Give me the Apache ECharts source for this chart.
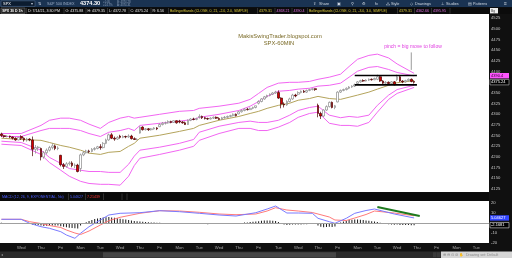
<!DOCTYPE html>
<html><head><meta charset="utf-8">
<script src="https://cdn.jsdelivr.net/npm/echarts@6/dist/echarts.min.js"></script>
<style>html,body{margin:0;padding:0;background:#101010;}#c{width:512px;height:258px;}</style>
</head><body><div id="c"></div>
<script>
// ---- categories (hourly bars) ----
const dayDates = ['6/15','6/16','6/17','6/18','6/21','6/22','6/23','6/24','6/25','6/28','6/29','6/30','7/1','7/2','7/6','7/7','7/8','7/9','7/12','7/13','7/14','7/15','7/16','7/19','7/20'];
const dayNames = ['Tue','Wed','Thu','Fri','Mon','Tue','Wed','Thu','Fri','Mon','Tue','Wed','Thu','Fri','Tue','Wed','Thu','Fri','Mon','Tue','Wed','Thu','Fri','Mon','Tue'];
const hours = ['9:30','10:30','11:30','12:30','13:30','14:30','15:30'];
const lastDayBars = 5;

// ---- SPX 60 min candles [open, close, low, high] ----
const ohlc = [
[4254,4250,4247,4257],[4250,4248,4245,4252],[4248,4249,4246,4251],[4249,4247,4244,4250],[4247,4244,4241,4248],[4244,4240,4238,4246],[4240,4246,4239,4247],
[4248,4244,4240,4251],[4244,4240,4236,4246],[4240,4242,4236,4245],[4242,4240,4237,4244],[4240,4218,4202,4248],[4218,4222,4208,4228],[4222,4223,4214,4226],
[4220,4200,4192,4222],[4200,4210,4196,4214],[4210,4216,4206,4220],[4216,4222,4213,4226],[4222,4226,4218,4232],[4226,4220,4216,4229],[4220,4221,4216,4225],
[4204,4182,4178,4205],[4182,4178,4172,4186],[4178,4184,4175,4188],[4184,4186,4180,4190],[4186,4180,4176,4190],[4180,4181,4174,4185],[4181,4166,4164,4184],
[4173,4205,4165,4208],[4205,4210,4202,4214],[4210,4214,4208,4217],[4214,4213,4209,4217],[4213,4218,4211,4221],[4218,4220,4215,4223],[4220,4224,4218,4226],
[4224,4222,4217,4230],[4222,4232,4220,4235],[4232,4240,4230,4243],[4240,4252,4238,4255],[4252,4244,4242,4256],[4244,4242,4238,4248],[4242,4246,4240,4249],
[4249,4246,4243,4252],[4246,4248,4244,4251],[4248,4247,4244,4250],[4247,4249,4245,4253],[4249,4243,4241,4252],[4243,4241,4240,4246],[4241,4241,4239,4244],
[4256,4270,4255,4272],[4270,4264,4262,4272],[4264,4266,4262,4268],[4266,4264,4261,4268],[4264,4266,4262,4268],[4266,4268,4264,4270],[4268,4266,4263,4270],
[4271,4276,4270,4279],[4276,4279,4274,4282],[4279,4280,4276,4283],[4280,4283,4278,4286],[4283,4281,4279,4285],[4281,4285,4280,4286],[4285,4280,4278,4286],
[4284,4282,4279,4287],[4282,4280,4278,4284],[4280,4276,4275,4283],[4276,4286,4275,4288],[4286,4289,4284,4291],[4289,4288,4286,4292],[4288,4290,4286,4292],
[4293,4295,4290,4300],[4295,4292,4289,4297],[4292,4290,4288,4294],[4290,4289,4287,4292],[4289,4291,4288,4293],[4291,4293,4289,4295],[4293,4291,4289,4295],
[4290,4288,4287,4293],[4288,4292,4287,4294],[4292,4293,4290,4296],[4293,4295,4291,4297],[4295,4297,4293,4299],[4297,4300,4295,4302],[4300,4297,4295,4302],
[4301,4306,4300,4308],[4306,4309,4304,4311],[4309,4312,4307,4314],[4312,4311,4309,4315],[4311,4314,4310,4316],[4314,4316,4312,4318],[4316,4320,4314,4320],
[4326,4330,4323,4333],[4330,4336,4328,4338],[4336,4341,4334,4343],[4341,4344,4339,4346],[4344,4347,4342,4349],[4347,4350,4345,4352],[4350,4352,4348,4355],
[4351,4338,4336,4356],[4338,4324,4314,4340],[4324,4322,4316,4328],[4322,4330,4320,4333],[4330,4336,4328,4339],[4336,4345,4334,4348],[4345,4343,4340,4348],
[4347,4351,4344,4354],[4351,4354,4349,4356],[4354,4352,4350,4357],[4352,4356,4350,4358],[4356,4358,4354,4360],[4358,4360,4356,4361],[4360,4358,4355,4361],
[4321,4302,4293,4325],[4302,4296,4289,4306],[4296,4310,4294,4312],[4310,4318,4308,4321],[4318,4328,4316,4330],[4328,4316,4314,4330],[4316,4320,4312,4322],
[4329,4352,4328,4354],[4352,4356,4350,4358],[4356,4358,4354,4360],[4358,4361,4356,4363],[4361,4364,4359,4366],[4364,4366,4362,4368],[4366,4369,4364,4372],
[4372,4376,4370,4378],[4376,4379,4374,4381],[4379,4378,4376,4382],[4378,4380,4377,4382],[4380,4382,4378,4384],[4382,4381,4379,4384],[4381,4384,4380,4386],
[4382,4388,4380,4393],[4388,4378,4376,4390],[4378,4373,4370,4380],[4373,4375,4371,4378],[4375,4372,4370,4377],[4372,4376,4371,4378],[4376,4369,4368,4378],
[4381,4388,4378,4393],[4388,4378,4376,4390],[4378,4376,4373,4380],[4376,4379,4374,4381],[4379,4382,4377,4384],[4382,4377,4375,4384],[4377,4375.24,4372,4379]
];

// ---- Bollinger bands (read at these bar indices) ----
const bandIdx = [0,7,14,17,21,24,28,31,35,38,42,45,47,49,56,63,68,70,77,84,88,91,94,98,102,105,109,112,116,120,123,126,130,133,137,140,146];
const bbUpper3 = [4255,4255,4274,4286,4291,4291,4286,4277,4267,4281,4291,4295,4291,4293,4300,4307,4309,4314,4319,4326,4335,4349,4363,4373,4375,4375,4377,4382,4387,4394,4412,4429,4438,4441,4432,4418,4396];
const bbUpper2 = [4248,4248,4262,4267,4267,4267,4262,4255,4248,4258,4262,4267,4262,4274,4279,4284,4288,4293,4300,4309,4319,4330,4342,4354,4356,4359,4361,4366,4368,4373,4387,4401,4410,4412,4405,4398,4390];
const bbMid    = [4244,4241,4239,4234,4227,4223,4216,4209,4206,4211,4213,4225,4232,4244,4251,4260,4267,4274,4286,4295,4302,4307,4314,4321,4326,4333,4337,4342,4337,4335,4340,4345,4352,4359,4368,4374,4379];
const bbLower2 = [4237,4234,4216,4199,4185,4173,4169,4166,4166,4164,4164,4183,4202,4216,4223,4232,4241,4258,4272,4281,4284,4281,4281,4286,4298,4309,4316,4319,4298,4292,4295,4293,4298,4321,4345,4358,4368];
const bbLower3 = [4230,4227,4206,4187,4169,4155,4143,4138,4136,4136,4134,4155,4180,4197,4206,4216,4225,4239,4255,4267,4267,4262,4262,4270,4281,4293,4302,4305,4279,4274,4274,4272,4281,4305,4335,4349,4363];

// ---- MACD (12, 26, 9) ----
const macdIdx = [0,7,10,14,17,21,23,26,28,31,35,38,42,49,56,63,70,77,83,90,94,97,101,105,110,112,116,118,122,125,129,132,139,146];
const macdLine = [3.7,3.7,-0.3,-3.7,-5.3,-8.7,-12,-15.3,-10.3,-3.7,3,8,9.7,10.3,12.3,11.3,9.7,8,7,10.3,14,17,10,10,9.7,4.7,1.3,-0.3,4.7,9.7,12.5,14,9,5.05];
const signalLine = [3.7,3.7,1.3,-0.5,-2.5,-4.5,-7,-10,-11.5,-8,-2,2.3,5.7,9.7,12.3,12,10.7,9,8.3,9,12,15.3,13,12,10.5,9,6,3,2.5,5,8.5,12,10,7.21];
const histogram = [
0.2,0.1,0.1,0.0,-0.1,0.1,0.0,
-0.1,-0.3,-0.6,-1.0,-1.6,-1.9,-2.0,
-2.6,-2.9,-2.8,-2.6,-2.5,-2.4,-2.5,
-3.2,-3.8,-4.3,-4.8,-5.1,-5.3,-5.6,
-2.6,-0.8,0.8,2.0,3.0,3.9,4.6,
5.0,5.4,5.8,5.9,5.6,5.2,4.8,
4.3,3.8,3.4,3.0,2.4,2.0,1.8,
1.6,1.2,1.0,0.8,0.6,0.5,0.3,
0.2,0.1,0.0,-0.1,-0.2,-0.2,-0.3,
-0.5,-0.7,-0.9,-0.8,-0.9,-1.0,-1.0,
-1.0,-1.1,-1.1,-1.2,-1.1,-1.0,-1.0,
-1.0,-1.0,-0.9,-0.9,-0.8,-0.7,-0.6,
-0.3,0.1,0.4,0.6,0.9,1.2,1.4,
1.8,2.2,2.4,2.5,2.4,2.2,2.0,
1.0,-0.8,-1.6,-1.9,-1.8,-1.6,-1.5,
-1.5,-1.4,-1.3,-1.2,-1.1,-1.0,-1.0,
-2.6,-3.8,-4.2,-4.0,-3.8,-3.9,-3.4,
-1.0,0.6,1.6,2.3,2.9,3.3,3.5,
3.4,3.2,2.9,2.5,2.2,1.8,1.4,
1.1,0.3,-0.5,-1.0,-1.3,-1.4,-1.8,
-1.6,-1.9,-2.0,-2.1,-2.1,-2.2,-2.17];

// ---- drawn annotations (data coordinates) ----
const rangeTop = [[125,4391],[147,4391]];
const rangeBottom = [[125,4369],[147,4369]];
const pinchPointer = [[145,4445],[145,4404]];
const macdTrend = [[133,16],[148,7]];

// ---- tick labels ----
const priceTicks = [4125,4150,4175,4200,4225,4250,4275,4300,4325,4350,4375,4400,4425,4450,4475,4500,4525];
const macdTicks = [20,10,-10,-20];
const lastPrice = 4375.24, upperBandNow = 4390.4, macdNow = 5.04627, signalNow = 7.21439, histNow = -2.1681;

const categories = [];
dayDates.forEach((d, k) => {
  const n = k === dayDates.length - 1 ? lastDayBars : hours.length;
  for (let h = 0; h < n; h++) categories.push(d + ' ' + hours[h]);
});
const pair = (idx, vals) => idx.map((k, j) => [k, vals[j]]);

const FONT = 'Liberation Sans, Arial, sans-serif';
const chart = echarts.init(document.getElementById('c'), null, {width: 512, height: 258});
const bandLine = (data, color) => ({type: 'line', xAxisIndex: 0, yAxisIndex: 0, data, symbol: 'none', silent: true,
  lineStyle: {color, width: 1}, z: 3});

chart.setOption({
  animation: false,
  backgroundColor: '#101010',
  textStyle: {fontFamily: FONT},
  grid: [
    {left: 0, right: 23, top: 14, height: 178, show: true, backgroundColor: '#ffffff', borderWidth: 0},
    {left: 0, right: 23, top: 201, height: 42, show: true, backgroundColor: '#ffffff', borderWidth: 0}
  ],
  xAxis: [
    {type: 'category', gridIndex: 0, data: categories, boundaryGap: true,
      axisLine: {show: false}, axisTick: {show: false}, axisLabel: {show: false}, splitLine: {show: false}},
    {type: 'category', gridIndex: 1, data: categories, boundaryGap: true,
      axisLine: {show: false}, axisTick: {show: false}, splitLine: {show: false},
      axisLabel: {interval: (i) => i > 0 && i % hours.length === 0, formatter: (v, i) => dayNames[Math.floor(i / hours.length)],
        color: '#a8a8a8', fontSize: 4.2, margin: 3, fontFamily: FONT}}
  ],
  yAxis: [
    {type: 'value', gridIndex: 0, position: 'right', min: 4118, max: 4535, scale: true,
      axisLine: {show: false}, axisTick: {show: false}, splitLine: {show: false},
      axisLabel: {customValues: priceTicks, formatter: v => String(v), color: '#c4c4c4', fontSize: 4.2, margin: 2, fontFamily: FONT}},
    {type: 'value', gridIndex: 1, position: 'right', min: -20, max: 22,
      axisLine: {show: false}, axisTick: {show: false}, splitLine: {show: false},
      axisLabel: {customValues: macdTicks, formatter: v => String(v), color: '#c4c4c4', fontSize: 4.2, margin: 2, fontFamily: FONT}}
  ],
  series: [
    bandLine(pair(bandIdx, bbUpper3), '#f266f2'),
    bandLine(pair(bandIdx, bbUpper2), '#f266f2'),
    bandLine(pair(bandIdx, bbMid), '#b4a45c'),
    bandLine(pair(bandIdx, bbLower2), '#f266f2'),
    bandLine(pair(bandIdx, bbLower3), '#f266f2'),
    {type: 'candlestick', xAxisIndex: 0, yAxisIndex: 0, data: ohlc, barWidth: 2.2, silent: true,
      itemStyle: {color: '#ffffff', color0: '#d40000', borderColor: '#8a8a8a', borderColor0: '#4a0000', borderWidth: 0.7}, z: 5},
    {type: 'line', xAxisIndex: 0, yAxisIndex: 0, data: rangeTop, symbol: 'none', lineStyle: {color: '#000', width: 1.6}, z: 6},
    {type: 'line', xAxisIndex: 0, yAxisIndex: 0, data: rangeBottom, symbol: 'none', lineStyle: {color: '#000', width: 1.6}, z: 6},
    {type: 'line', xAxisIndex: 0, yAxisIndex: 0, data: pinchPointer, symbol: 'none', lineStyle: {color: '#9a9a9a', width: 1}, z: 6},
    {type: 'bar', xAxisIndex: 1, yAxisIndex: 1, data: histogram, barWidth: 1, silent: true,
      itemStyle: {color: '#1a1a1a'},
      markLine: {silent: true, symbol: 'none', label: {show: false}, lineStyle: {color: '#a0a0a0', width: 1, type: 'solid'}, data: [{yAxis: 0}]}},
    {type: 'line', xAxisIndex: 1, yAxisIndex: 1, data: pair(macdIdx, signalLine), symbol: 'none', lineStyle: {color: '#ff7a7a', width: 1}, z: 4},
    {type: 'line', xAxisIndex: 1, yAxisIndex: 1, data: pair(macdIdx, macdLine), symbol: 'none', lineStyle: {color: '#7a7aff', width: 1}, z: 4},
    {type: 'line', xAxisIndex: 1, yAxisIndex: 1, data: macdTrend, symbol: 'none', lineStyle: {color: '#1f7a1f', width: 2}, z: 6}
  ]
});

// ---- chrome / texts ----
const els = [];
const rect = (x, y, w, h, fill, stroke) => els.push({type: 'rect', shape: {x, y, width: w, height: h}, style: {fill, stroke: stroke || null, lineWidth: stroke ? 0.6 : 0}, z: 100, silent: true});
const txt = (x, y, text, fill, size, align, weight) => els.push({type: 'text', x, y, style: {text, fill, fontSize: size, fontFamily: FONT, fontWeight: weight || 'normal', align: align || 'left', verticalAlign: 'middle'}, z: 101, silent: true});
const vline = (x, y1, y2, c) => els.push({type: 'line', shape: {x1: x, y1, x2: x, y2}, style: {stroke: c, lineWidth: 0.6}, z: 100, silent: true});

// top toolbar
rect(0, 0, 512, 7.2, '#1a3352');
rect(1, 0.8, 34, 5.6, '#0c1c30', '#50688a');
txt(3, 3.7, 'SPX', '#ffffff', 4);
txt(31, 3.6, '▾', '#c0c8d8', 3.5);
txt(38, 3.6, '⇅', '#c0c8d8', 4);
txt(47, 3.7, 'S&P 500 INDEX', '#9aabc4', 3.8);
txt(80, 3.8, '4374.30', '#ffffff', 5.6, 'left', 'bold');
txt(103, 2.2, '+0.05', '#8fa2bc', 2.8); txt(103, 5.2, '+0.17%', '#8fa2bc', 2.8);
txt(117, 2.2, 'B: 4374.28', '#8fa2bc', 2.8); txt(117, 5.2, 'A: 4374.31', '#8fa2bc', 2.8);
txt(313, 3.7, '⇪', '#d0d8e2', 4); txt(319, 3.7, 'Share', '#d0d8e2', 3.8);
txt(337, 3.7, '▣', '#d0d8e2', 4); txt(351, 3.7, '⚲', '#d0d8e2', 4); txt(362, 3.7, '⚙', '#d0d8e2', 4);
txt(375, 3.7, 'fx', '#d0d8e2', 3.8);
txt(386, 3.7, '⁂', '#d0d8e2', 3.6); txt(391, 3.7, 'Style', '#d0d8e2', 3.8);
txt(410, 3.7, '◇', '#d0d8e2', 3.6); txt(415, 3.7, 'Drawings', '#d0d8e2', 3.8);
txt(441, 3.7, '⊥', '#d0d8e2', 3.6); txt(446, 3.7, 'Studies', '#d0d8e2', 3.8);
txt(468, 3.7, '▤', '#d0d8e2', 3.6); txt(473, 3.7, 'Patterns', '#d0d8e2', 3.8);
txt(504, 3.7, '≡', '#d0d8e2', 5);

// info row
rect(0, 7.2, 512, 6.8, '#0b0b0b');
rect(1, 8, 24, 5.4, '#1e1e1e', '#707070');
txt(2.2, 10.8, 'SPX 30 D 1h', '#ffffff', 3.5, 'left', 'bold');
[26.5, 64, 86, 107.5, 129, 151, 168.5, 257.5, 275, 292, 307.5, 397.5, 414.5, 431.5, 450].forEach(x => vline(x, 8, 13.6, '#4a4a4a'));
txt(28, 10.8, 'D: 7/14/21, 3:30 PM', '#e6e6e6', 3.6);
txt(65.5, 10.8, 'O: 4375.88', '#e6e6e6', 3.6);
txt(87.5, 10.8, 'H: 4379.35', '#e6e6e6', 3.6);
txt(109, 10.8, 'L: 4372.78', '#e6e6e6', 3.6);
txt(130.5, 10.8, 'C: 4375.24', '#e6e6e6', 3.6);
txt(152.5, 10.8, 'R: 6.56', '#e6e6e6', 3.6);
txt(170, 10.8, 'BollingerBands (CLOSE, 0, 21, -2.0, 2.0, SIMPLE)', '#d8c63a', 3.5);
txt(259, 10.8, '4379.31', '#d8c63a', 3.6);
txt(276.5, 10.8, '4368.21', '#e070e0', 3.6);
txt(293.5, 10.8, '4390.4', '#e070e0', 3.6);
txt(309, 10.8, 'BollingerBands (CLOSE, 0, 21, -3.0, 3.0, SIMPLE)', '#d8c63a', 3.5);
txt(399, 10.8, '4379.31', '#d8c63a', 3.6);
txt(416, 10.8, '4362.66', '#e070e0', 3.6);
txt(433, 10.8, '4395.95', '#e070e0', 3.6);
rect(490, 8, 8, 5.4, '#ececec');
txt(491, 10.8, 'Bg', '#333', 3.2);

// chart texts
txt(280, 36, 'MakisSwingTrader.blogspot.com', '#7a6a26', 5.8, 'center');
txt(279, 43, 'SPX-60MIN', '#7a6a26', 5.8, 'center');
txt(413, 47, 'pinch = big move to follow', '#e040e0', 5, 'center');

// MACD header
rect(0, 192.5, 489, 8.3, '#0a0a0a');
[68.5, 85.5, 103.5, 122, 127].forEach(x => vline(x, 193.5, 200, '#4a4a4a'));
txt(2, 196.8, 'MACD (12, 26, 9, EXPONENTIAL, No)', '#4a5cff', 3.6);
txt(70, 196.8, String(macdNow), '#4a5cff', 3.6);
txt(87, 196.8, String(signalNow), '#ff3030', 3.6);

// scrollbar
rect(0, 251.5, 441, 6.5, '#2a2a2a');
rect(103, 252.2, 233, 5.2, '#454545');
txt(1, 254.8, '◂', '#888', 3.5);
rect(433, 252.2, 3.5, 5, '#3a3a3a'); rect(437, 252.2, 3.5, 5, '#3a3a3a');
rect(441, 251.5, 71, 6.5, '#d6d6d6');
txt(443, 254.8, '⊕ ⊖ ⊙ ⊘ ✋', '#8a8a8a', 3.6);
txt(466, 254.8, 'Drawing set: Default', '#8a8a8a', 3.6);

// value badges on the right axes (positions from the axes' scales)
const yP = v => chart.convertToPixel({yAxisIndex: 0}, v);
const yM = v => chart.convertToPixel({yAxisIndex: 1}, v);
const badge = (y, text, fill, color, stroke) => { rect(490, y - 2.7, 19, 5.4, fill, stroke); txt(491, y, text, color, 4); };
badge(yP(upperBandNow), String(upperBandNow), '#ff55ff', '#2a002a');
badge(yP(lastPrice), String(lastPrice), '#000000', '#ffffff', '#bbbbbb');
badge(yM(macdNow), String(macdNow), '#3346ff', '#ffffff');
badge(yM(histNow), String(histNow), '#000000', '#ffffff', '#dddddd');

chart.setOption({graphic: {elements: els}});
</script>
</body></html>
